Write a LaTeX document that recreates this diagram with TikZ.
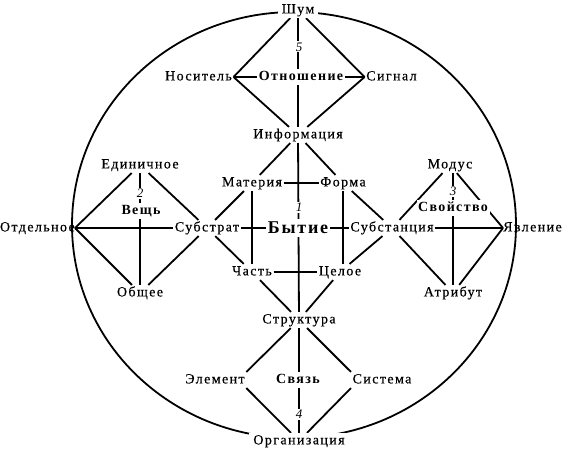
\documentclass[tikz,border=0pt]{standalone}
\usepackage{fontspec}
\setmainfont{Liberation Serif}[LetterSpace=10, UprightFeatures={FakeBold=0.4}]
\pgfdeclarelayer{bg}
\pgfsetlayers{bg,main}
\tikzset{
  lbl/.style={font=\fontsize{14}{16}\selectfont, inner sep=1.5pt, text height=9.8pt, text depth=3pt},
  bld/.style={lbl, font=\fontsize{14}{16}\selectfont\bfseries, fill=white},
  big/.style={lbl, font=\fontsize{18}{20}\selectfont\bfseries, text height=12.5pt, text depth=1pt, fill=white, inner sep=2pt},
  num/.style={font=\fontsize{13}{15}\selectfont\itshape, inner sep=1pt, fill=white, text height=9pt, text depth=0pt},
  brk/.style={lbl, fill=white, inner xsep=4pt},
  ln/.style={line width=1.8pt, black}
}
\begin{document}
\begin{tikzpicture}[x=1pt,y=-1pt]
\useasboundingbox (0,0) rectangle (565,452);
% top
\node[brk] (shum) at (298,10) {Шум};
\node[lbl] (nos) at (198.5,77) {Носитель};
\node[bld] (otn) at (301,77) {Отношение};
\node[lbl] (sig) at (391.5,77) {Сигнал};
\node[num] (n5) at (299,47) {5};
\node[lbl] (inf) at (298,135) {Информация};
% center
\node[lbl] (mat) at (252,183) {Материя};
\node[lbl] (form) at (343,183) {Форма};
\node[num] (n1) at (299,207) {1};
\node[big] (byt) at (298,228) {Бытие};
\node[lbl] (subr) at (207,228) {Субстрат};
\node[lbl] (subc) at (392,228) {Субстанция};
\node[lbl] (chast) at (252,272) {Часть};
\node[lbl] (cel) at (340,272) {Целое};
\node[lbl] (str) at (299,320) {Структура};
% bottom
\node[lbl] (elem) at (215,380) {Элемент};
\node[bld] (svyaz) at (298,380) {Связь};
\node[lbl] (sist) at (382,380) {Система};
\node[num] (n4) at (299,414) {4};
\node[brk] (org) at (299,441) {Организация};
% left
\node[lbl] (edin) at (140,165) {Единичное};
\node[num] (n2) at (140,193) {2};
\node[bld] (vesh) at (141,211) {Вещь};
\node[lbl, anchor=east, inner xsep=0pt] (otd) at (75,228) {Отдельное};
\node[lbl] (obsh) at (140,293) {Общее};
% right
\node[lbl] (mod) at (450,165) {Модус};
\node[num] (n3) at (453,191) {3};
\node[bld] (svoi) at (453,208) {Свойство};
\node[lbl, anchor=west, inner xsep=0pt] (yavl) at (503,228) {Явление};
\node[lbl] (atr) at (453,293) {Атрибут};
\begin{pgfonlayer}{bg}
\draw[ln] (294,225) ellipse [x radius=222, y radius=213];
% top diamond
\draw[ln] (nos.east) -- (shum);
\draw[ln] (sig.west) -- (shum);
\draw[ln] (nos.east) -- (inf);
\draw[ln] (sig.west) -- (inf);
\draw[ln] (nos) -- (sig);
\draw[ln] (shum) -- (inf);
% central
\draw[ln] (inf) -- (mat);
\draw[ln] (inf) -- (form);
\draw[ln] (mat) -- (subr);
\draw[ln] (form) -- (subc);
\draw[ln] (subr) -- (chast);
\draw[ln] (subc) -- (cel);
\draw[ln] (chast) -- (str);
\draw[ln] (cel) -- (str);
\draw[ln] (mat) -- (form);
\draw[ln] (chast) -- (cel);
\draw[ln] (mat) -- (chast);
\draw[ln] (form.south) -- (form.south |- cel.north);
\draw[ln] (subr) -- (subc);
\draw[ln] (inf) -- (str);
% left diamond
\draw[ln] (otd.east) -- (edin);
\draw[ln] (otd.east) -- (obsh);
\draw[ln] (edin) -- (subr);
\draw[ln] (obsh) -- (subr);
\draw[ln] (otd.east) -- (subr);
\draw[ln] (edin) -- (obsh);
% right diamond
\draw[ln] (subc) -- (mod);
\draw[ln] (subc) -- (atr);
\draw[ln] (mod) -- (yavl.west);
\draw[ln] (atr) -- (yavl.west);
\draw[ln] (subc) -- (yavl.west);
\draw[ln] (mod.south -| atr.north) -- (atr);
% bottom diamond
\draw[ln] (str) -- (elem.north east);
\draw[ln] (str) -- (sist.north west);
\draw[ln] (elem.south east) -- (org);
\draw[ln] (sist.south west) -- (org);
\draw[ln] (str) -- (org);
\end{pgfonlayer}
\end{tikzpicture}
\end{document}
